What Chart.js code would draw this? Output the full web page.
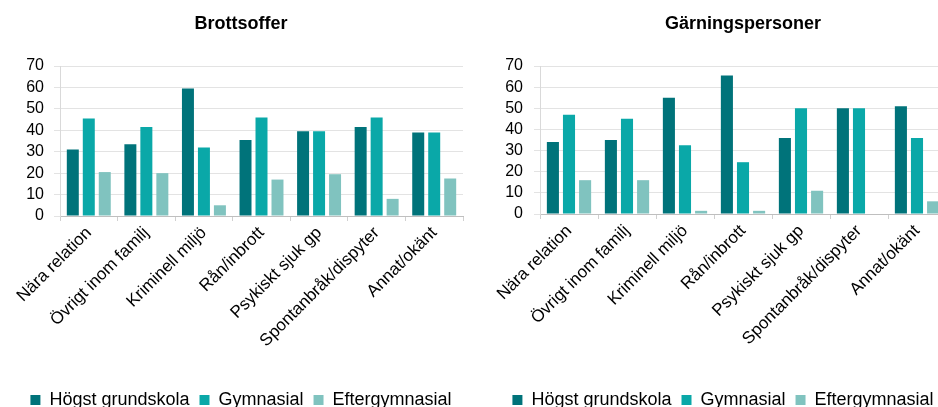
<!DOCTYPE html>
<html>
<head>
<meta charset="utf-8">
<script src="https://cdn.jsdelivr.net/npm/chart.js"></script>
<style>
  html, body { margin: 0; padding: 0; background: #fff; overflow: hidden; width: 938px; height: 407px; }
  #left { position: absolute; left: 0; top: 0; }
  #right { position: absolute; left: 470px; top: 0; }
</style>
</head>
<body>
<canvas id="left" width="470" height="419"></canvas>
<canvas id="right" width="520" height="419"></canvas>
<script>
const categories = ['Nära relation', 'Övrigt inom familj', 'Kriminell miljö', 'Rån/inbrott',
    'Psykiskt sjuk gp', 'Spontanbråk/dispyter', 'Annat/okänt'];
const seriesNames = ['Högst grundskola', 'Gymnasial', 'Eftergymnasial'];
const yMin = 0, yMax = 70, yStep = 10;

// Brottsoffer
const offerGrundskola = [31, 33.5, 59.5, 35.5, 39.5, 41.5, 39];
const offerGymnasial = [45.5, 41.5, 32, 46, 39.5, 46, 39];
const offerEfter = [20.5, 20, 5, 17, 19.5, 8, 17.5];

// Gärningspersoner
const gpGrundskola = [34, 35, 55, 65.5, 36, 50, 51];
const gpGymnasial = [47, 45, 32.5, 24.5, 50, 50, 36];
const gpEfter = [16, 16, 1.5, 1.5, 11, 0, 6];

const colors = ['#00737a', '#0aa8a8', '#80c3bf'];
const font = '"Liberation Sans", Arial, sans-serif';

function makeChart(id, title, values, o) {
    const ctx = document.getElementById(id).getContext('2d');
    return new Chart(ctx, {
        type: 'bar',
        data: {
            labels: categories,
            datasets: values.map((v, i) => ({
                label: seriesNames[i],
                data: v,
                backgroundColor: colors[i],
                borderWidth: 0,
                categoryPercentage: 0.833,
                barPercentage: 0.75
            }))
        },
        options: {
            responsive: false,
            animation: false,
            devicePixelRatio: 1,
            layout: { padding: { left: o.padLeft, right: o.padRight, top: 0, bottom: 0 } },
            plugins: {
                title: {
                    display: true,
                    text: title,
                    color: '#000',
                    fullSize: o.titleFull,
                    font: { family: font, size: 18, weight: 'bold', lineHeight: 1.2 },
                    padding: { top: 13, bottom: 31.4 }
                },
                legend: {
                    position: 'bottom',
                    labels: {
                        color: '#000',
                        font: { family: font, size: 18 },
                        boxWidth: 10,
                        boxHeight: 10,
                        padding: 10
                    }
                },
                tooltip: { enabled: false }
            },
            scales: {
                x: {
                    grid: {
                        offset: true,
                        drawOnChartArea: false,
                        drawTicks: true,
                        tickLength: 5,
                        color: '#d0d0d0'
                    },
                    border: { color: '#bfbfbf', width: 1 },
                    ticks: {
                        color: '#000',
                        font: { family: font, size: 17 },
                        autoSkip: false,
                        minRotation: 45,
                        maxRotation: 45,
                        padding: 2
                    },
                    afterFit: s => { s.height = o.xHeight; }
                },
                y: {
                    min: yMin,
                    max: yMax,
                    grid: { color: '#e3e3e3', tickLength: 6, drawTicks: true },
                    border: { color: '#d9d9d9', width: 1 },
                    ticks: {
                        stepSize: yStep,
                        autoSkip: false,
                        color: '#000',
                        font: { family: font, size: 16 },
                        padding: o.yPad
                    },
                    afterFit: s => { s.width = o.yWidth; }
                }
            }
        }
    });
}

makeChart('left', 'Brottsoffer', [offerGrundskola, offerGymnasial, offerEfter],
    { padLeft: 19, padRight: 7, yWidth: 41, yPad: 10, xHeight: 165, titleFull: true });
makeChart('right', 'Gärningspersoner', [gpGrundskola, gpGymnasial, gpEfter],
    { padLeft: 30, padRight: 44, yWidth: 40, yPad: 11, xHeight: 167, titleFull: false });
</script>
</body>
</html>
